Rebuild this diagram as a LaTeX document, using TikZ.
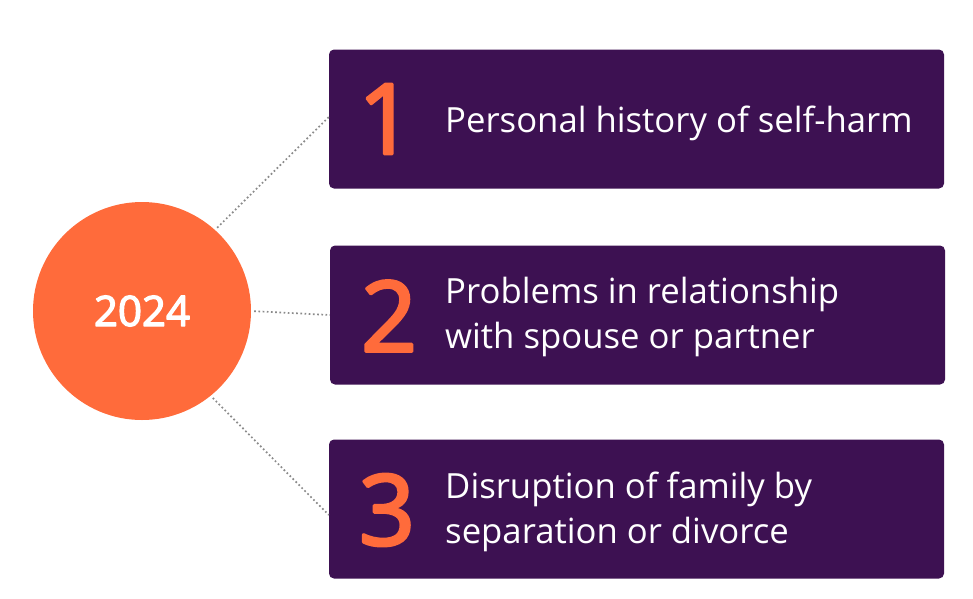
\documentclass[tikz,border=0pt]{standalone}
\usepackage{fontspec}
\setmainfont{Open Sans}
\newcommand\heavytext[2]{\special{pdf:literal q 2 Tr #1 w 1 j}#2\special{pdf:literal Q}}
\definecolor{boxpurple}{HTML}{3D1152}
\definecolor{numorange}{HTML}{FF6B3B}
\definecolor{dotgray}{HTML}{8A8A8A}
\tikzset{
  itembox/.style={fill=boxpurple, rounded corners=5pt, minimum width=615pt, minimum height=139pt, inner sep=0pt},
  itemnum/.style={text=numorange, font=\fontsize{98}{98}\selectfont, inner sep=0pt},
  itemtext/.style={text=white, font=\fontsize{34.7}{44.5}\selectfont, align=left, anchor=west, inner sep=0pt},
  dotline/.style={dotgray, line width=1.7pt, dash pattern=on 1.7pt off 2.5pt, shorten <=3pt}
}
\begin{document}
\begin{tikzpicture}[x=1pt,y=-1pt]
\useasboundingbox (0,0) rectangle (973,598);
\node[circle, fill=numorange, minimum size=218pt, inner sep=0pt] (c) at (142,311) {};
\node[text=white, font=\fontsize{42}{42}\selectfont] (yr) at (142,311) {\heavytext{1.3}{2024}};
\node[itembox] (b1) at (636.5,119) {};
\node[itembox] (b2) at (637.5,315) {};
\node[itembox] (b3) at (636.5,509) {};
\node[itemnum] (n1) at (386,119) {\heavytext{3}{1}};
\node[itemnum] (n2) at (389,316) {\heavytext{3}{2}};
\node[itemnum] (n3) at (387,510) {\heavytext{3}{3}};
\node[itemtext] (t1) at (445,123) {Personal history of self-harm};
\node[itemtext] (t2) at (445,317) {Problems in relationship\\with spouse or partner};
\node[itemtext] (t3) at (445,512) {Disruption of family by\\separation or divorce};
\draw[dotline] (c.48) -- ([yshift=2pt]b1.west);
\draw[dotline] (c.east) -- (b2.west);
\draw[dotline] (c.-51) -- ([yshift=-6pt]b3.west);
\end{tikzpicture}
\end{document}
